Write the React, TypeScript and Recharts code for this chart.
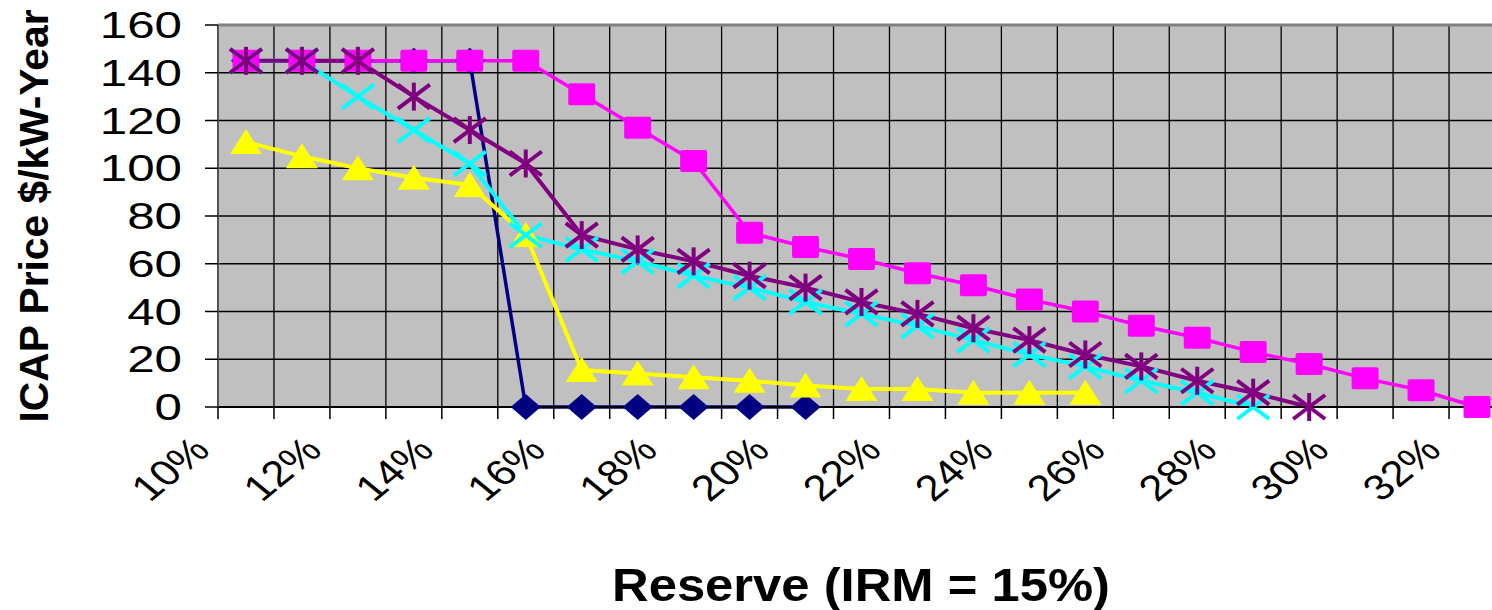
import { LineChart, Line, XAxis, YAxis, CartesianGrid, ReferenceLine } from 'recharts';

const reserves = [
  '10%', '11%', '12%', '13%', '14%', '15%', '16%', '17%', '18%', '19%', '20%', '21%',
  '22%', '23%', '24%', '25%', '26%', '27%', '28%', '29%', '30%', '31%', '32%'
];

// ICAP price, $/kW-year, one value per reserve level (curves stop where they hit zero)
const navyCurve = [145, 145, 145, 145, 145, 0, 0, 0, 0, 0, 0];
const magentaCurve = [145, 145, 145, 145, 145, 145, 131, 117, 103, 73, 67, 62, 56, 51, 45, 40, 34, 29, 23, 18, 12, 7, 0];
const yellowCurve = [111, 105, 100, 96, 93, 72, 15.5, 14, 12.5, 11, 9, 7.5, 7.5, 6, 6, 6];
const cyanCurve = [145, 145, 130, 116, 102, 72, 66, 61, 55, 50, 44, 39, 34, 28, 22, 17, 11, 6, 0];
const purpleCurve = [145, 145, 145, 130, 116, 102, 72, 66, 61, 55, 50, 44, 39, 33, 28, 22, 17, 11, 6, 0];

const priceTicks = [0, 20, 40, 60, 80, 100, 120, 140, 160];

const data = reserves.map((reserve, i) => ({
  reserve,
  navy: navyCurve[i],
  magenta: magentaCurve[i],
  yellow: yellowCurve[i],
  cyan: cyanCurve[i],
  purple: purpleCurve[i]
}));

const FONT = '"Liberation Sans", Arial, sans-serif';
const PLOT_LEFT = 218;
const PLOT_RIGHT = 1505;
const PLOT_TOP = 25;
const PLOT_BOTTOM = 407;
const BAND = (PLOT_RIGHT - PLOT_LEFT) / reserves.length;

const hasPoint = (p: any) => p.value != null && p.cy != null && !Number.isNaN(p.cy);

const Diamond = (p: any) =>
  hasPoint(p) ? (
    <polygon
      key={`d-${p.index}`}
      points={`${p.cx},${p.cy - 13} ${p.cx + 15},${p.cy} ${p.cx},${p.cy + 13} ${p.cx - 15},${p.cy}`}
      fill="#000080"
    />
  ) : (
    <g key={`d-${p.index}`} />
  );

const Square = (p: any) =>
  hasPoint(p) ? (
    <rect key={`s-${p.index}`} x={p.cx - 13.5} y={p.cy - 11} width={27} height={22} rx={2} fill="#FF00FF" />
  ) : (
    <g key={`s-${p.index}`} />
  );

const Triangle = (p: any) =>
  hasPoint(p) ? (
    <polygon
      key={`t-${p.index}`}
      points={`${p.cx},${p.cy - 13} ${p.cx + 16},${p.cy + 12} ${p.cx - 16},${p.cy + 12}`}
      fill="#FFFF00"
    />
  ) : (
    <g key={`t-${p.index}`} />
  );

const Cross = (p: any) =>
  hasPoint(p) ? (
    <g key={`x-${p.index}`} stroke="#00FFFF" strokeWidth={4}>
      <line x1={p.cx - 16} y1={p.cy - 12} x2={p.cx + 16} y2={p.cy + 12} />
      <line x1={p.cx - 16} y1={p.cy + 12} x2={p.cx + 16} y2={p.cy - 12} />
    </g>
  ) : (
    <g key={`x-${p.index}`} />
  );

const Star = (p: any) =>
  hasPoint(p) ? (
    <g key={`a-${p.index}`} stroke="#800080" strokeWidth={4}>
      <line x1={p.cx - 16} y1={p.cy - 12} x2={p.cx + 16} y2={p.cy + 12} />
      <line x1={p.cx - 16} y1={p.cy + 12} x2={p.cx + 16} y2={p.cy - 12} />
      <line x1={p.cx} y1={p.cy - 14} x2={p.cx} y2={p.cy + 14} />
    </g>
  ) : (
    <g key={`a-${p.index}`} />
  );

const PriceTick = ({ x, y, payload }: any) => (
  <g transform={`translate(${x},${y}) scale(1.37,1)`}>
    <text textAnchor="end" dy={13} fontSize={36} fontFamily={FONT} fill="#000">
      {payload.value}
    </text>
  </g>
);

const ReserveTick = ({ x, payload, index }: any) => (
  <g>
    <line x1={x - BAND / 2} y1={PLOT_BOTTOM} x2={x - BAND / 2} y2={PLOT_BOTTOM + 12} stroke="#000" strokeWidth={1.5} />
    {index === reserves.length - 1 && (
      <line x1={x + BAND / 2} y1={PLOT_BOTTOM} x2={x + BAND / 2} y2={PLOT_BOTTOM + 12} stroke="#000" strokeWidth={1.5} />
    )}
    {index % 2 === 0 && (
      <g transform={`translate(${x - 34},${452}) scale(1.22,1) rotate(-45)`}>
        <text textAnchor="end" fontSize={36} fontFamily={FONT} fill="#000">
          {payload.value}
        </text>
      </g>
    )}
  </g>
);

const gridColumns = ({ offset }: any) =>
  Array.from({ length: reserves.length + 1 }, (_, i) => offset.left + (i * offset.width) / reserves.length);

export default function App() {
  return (
    <div style={{ position: 'fixed', left: 0, top: 0, width: 1492, height: 610, overflow: 'hidden', background: '#fff' }}>
      <LineChart
        width={PLOT_RIGHT + 15}
        height={610}
        data={data}
        margin={{ top: PLOT_TOP, right: 15, bottom: 0, left: 0 }}
      >
        <CartesianGrid
          fill="#C0C0C0"
          stroke="#000"
          strokeWidth={1.3}
          verticalCoordinatesGenerator={gridColumns}
        />
        <XAxis
          dataKey="reserve"
          interval={0}
          height={610 - PLOT_BOTTOM}
          padding={{ left: BAND / 2, right: BAND / 2 }}
          tickLine={false}
          axisLine={{ stroke: '#000', strokeWidth: 2 }}
          tick={<ReserveTick />}
        />
        <YAxis
          width={PLOT_LEFT}
          domain={[0, 160]}
          ticks={priceTicks}
          interval={0}
          tickSize={13}
          tickMargin={23}
          tickLine={{ stroke: '#000', strokeWidth: 1.5 }}
          axisLine={{ stroke: '#555', strokeWidth: 2 }}
          tick={<PriceTick />}
        />
        <ReferenceLine y={160} stroke="#808080" strokeWidth={3} />
        <Line dataKey="navy" type="linear" stroke="#000080" strokeWidth={3.5} dot={Diamond} activeDot={false} isAnimationActive={false} />
        <Line dataKey="magenta" type="linear" stroke="#FF00FF" strokeWidth={3.5} dot={Square} activeDot={false} isAnimationActive={false} />
        <Line dataKey="yellow" type="linear" stroke="#FFFF00" strokeWidth={4} dot={Triangle} activeDot={false} isAnimationActive={false} />
        <Line dataKey="cyan" type="linear" stroke="#00FFFF" strokeWidth={4} dot={Cross} activeDot={false} isAnimationActive={false} />
        <Line dataKey="purple" type="linear" stroke="#800080" strokeWidth={4} dot={Star} activeDot={false} isAnimationActive={false} />
      </LineChart>
      <svg width={1492} height={610} style={{ position: 'absolute', left: 0, top: 0, pointerEvents: 'none' }}>
        <text
          transform="translate(48,216) rotate(-90)"
          textAnchor="middle"
          fontSize={41}
          fontWeight="bold"
          fontFamily={FONT}
          textLength={413}
          lengthAdjust="spacingAndGlyphs"
          fill="#000"
        >
          ICAP Price $/kW-Year
        </text>
        <text
          x={861}
          y={601}
          textAnchor="middle"
          fontSize={46}
          fontWeight="bold"
          fontFamily={FONT}
          textLength={498}
          lengthAdjust="spacingAndGlyphs"
          fill="#000"
        >
          Reserve (IRM = 15%)
        </text>
      </svg>
    </div>
  );
}
